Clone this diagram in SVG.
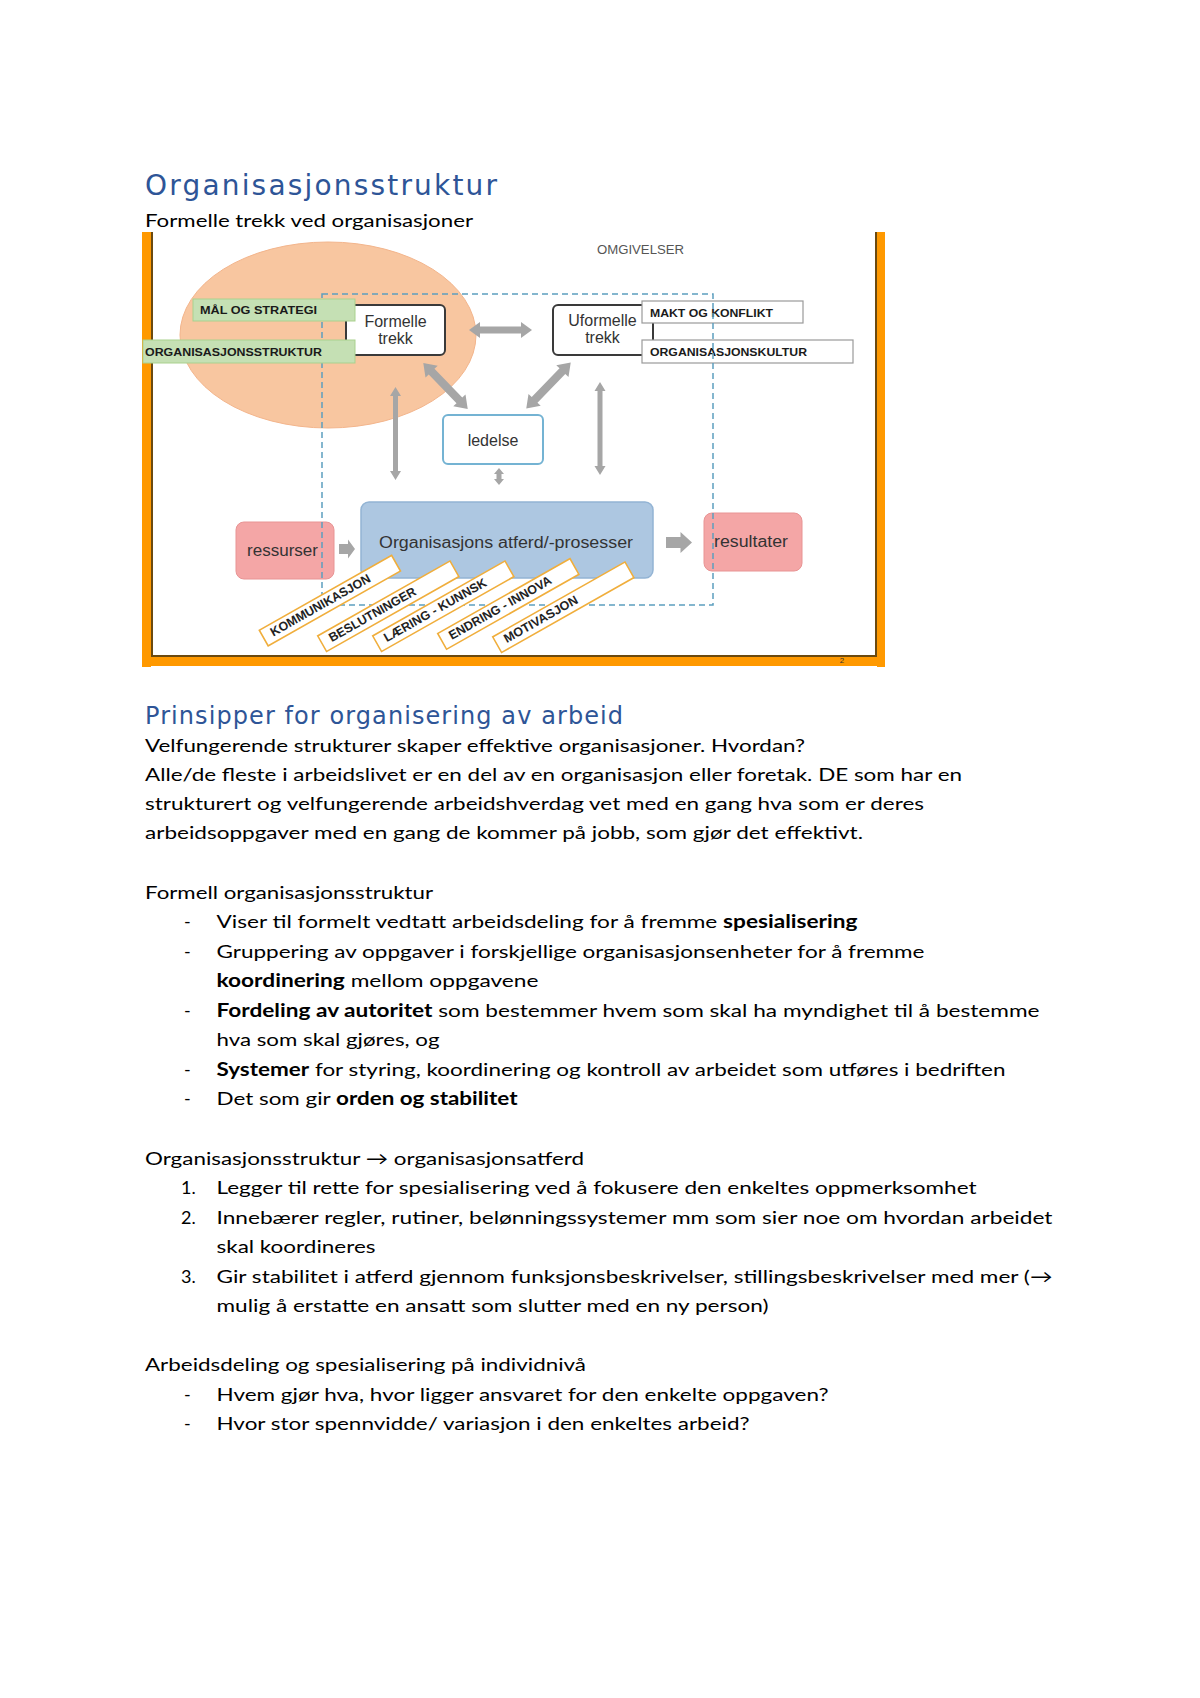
<svg xmlns="http://www.w3.org/2000/svg" width="1200" height="1698" viewBox="0 0 1200 1698">
<style>
.h1{font-family:"DejaVu Sans",sans-serif;fill:#2E5597}
.body{font-family:Lato,"Liberation Sans",sans-serif;font-size:18px;fill:#000}
.b{font-weight:bold}
.lbl{font-family:"Liberation Sans",Arial,sans-serif;fill:#333;font-size:16px}
.cap{font-family:"Liberation Sans",Arial,sans-serif;font-weight:bold;font-size:11px;fill:#1a1a1a}
.tag{font-family:"Liberation Sans",Arial,sans-serif;font-weight:bold;font-size:12.5px;fill:#222}
.arr{fill:#A6A6A6}
.tagbox{fill:#fff;stroke:#F0AE3C;stroke-width:1.6}
.gl{fill:#C5E0B4;stroke:#A9D18E;stroke-width:1}
.wl{fill:#fff;stroke:#9A9A9A;stroke-width:1.2}
</style>
<rect width="1200" height="1698" fill="#fff"/>

<text class="h1" x="145" y="195" font-size="28" textLength="352" lengthAdjust="spacing">Organisasjonsstruktur</text>
<text class="body" x="145" y="227" textLength="328" lengthAdjust="spacingAndGlyphs">Formelle trekk ved organisasjoner</text>

<g id="diagram">
  <g id="frame">
    <rect x="142" y="232" width="9" height="435" fill="#FF9900"/>
    <rect x="877" y="232" width="8" height="435" fill="#FF9900"/>
    <rect x="142" y="657" width="743" height="9" fill="#FF9900"/>
    <path d="M152 232 V656 H876 V232" fill="none" stroke="#6B4A10" stroke-width="2"/>
    <text x="842" y="663" font-family="Liberation Sans,Arial,sans-serif" font-size="8" fill="#333" text-anchor="middle">2</text>
  </g>

  <ellipse id="formal-area" cx="328" cy="335" rx="148" ry="93" fill="#F8C6A0" stroke="#F3B58C" stroke-width="1"/>

  <text id="omgivelser" x="597" y="254" font-family="Liberation Sans,Arial,sans-serif" font-size="12" fill="#555" textLength="87" lengthAdjust="spacingAndGlyphs">OMGIVELSER</text>

  <g id="formelle">
    <rect x="346" y="305" width="99" height="50" rx="5" fill="#fff" stroke="#3A3A3A" stroke-width="2"/>
    <text class="lbl" x="395.5" y="327" text-anchor="middle">Formelle</text>
    <text class="lbl" x="395.5" y="344" text-anchor="middle">trekk</text>
  </g>

  <g id="uformelle">
    <rect x="553" y="305" width="100" height="50" rx="5" fill="#fff" stroke="#3A3A3A" stroke-width="2"/>
    <text class="lbl" x="602.5" y="326" text-anchor="middle" font-size="17">Uformelle</text>
    <text class="lbl" x="602.5" y="343" text-anchor="middle">trekk</text>
  </g>

  <g id="makt">
    <rect class="wl" x="642" y="301" width="161" height="22"/>
    <text class="cap" x="650" y="317" textLength="123" lengthAdjust="spacingAndGlyphs">MAKT OG KONFLIKT</text>
  </g>
  <g id="kultur">
    <rect class="wl" x="642" y="340" width="211" height="23"/>
    <text class="cap" x="650" y="356" textLength="157" lengthAdjust="spacingAndGlyphs">ORGANISASJONSKULTUR</text>
  </g>

  <g id="ledelse">
    <rect x="443" y="415" width="100" height="49" rx="5" fill="#fff" stroke="#74B3D3" stroke-width="2"/>
    <text class="lbl" x="493" y="446" text-anchor="middle">ledelse</text>
  </g>

  <g id="atferd">
    <rect x="361" y="502" width="292" height="76" rx="8" fill="#ADC7E1" stroke="#93B4D4" stroke-width="1.5"/>
    <text class="lbl" x="379" y="548" font-size="17.5" textLength="254" lengthAdjust="spacingAndGlyphs">Organisasjons atferd/-prosesser</text>
  </g>

  <g id="ressurser">
    <rect x="236" y="522" width="98" height="57" rx="8" fill="#F4A6A6" stroke="#E89494" stroke-width="1"/>
    <text class="lbl" x="247" y="556" font-size="17" textLength="71" lengthAdjust="spacingAndGlyphs">ressurser</text>
  </g>

  <g id="resultater">
    <rect x="704" y="513" width="98" height="58" rx="8" fill="#F4A6A6" stroke="#E89494" stroke-width="1"/>
    <text class="lbl" x="714" y="547" font-size="17" textLength="74" lengthAdjust="spacingAndGlyphs">resultater</text>
  </g>

  <g id="connectors">
    <polygon class="arr" transform="translate(500.5,330)" points="-31.5,0 -20.5,-8 -20.5,-3.5 20.5,-3.5 20.5,-8 31.5,0 20.5,8 20.5,3.5 -20.5,3.5 -20.5,8"/>
    <polygon class="arr" transform="translate(445.5,386) rotate(46)" points="-32,0 -20,-8.5 -20,-4 20,-4 20,-8.5 32,0 20,8.5 20,4 -20,4 -20,8.5"/>
    <polygon class="arr" transform="translate(548.5,385.5) rotate(134)" points="-32,0 -20,-8.5 -20,-4 20,-4 20,-8.5 32,0 20,8.5 20,4 -20,4 -20,8.5"/>
    <polygon class="arr" transform="translate(395.5,433.5) rotate(90)" points="-46.5,0 -37.5,-5.5 -37.5,-2.5 37.5,-2.5 37.5,-5.5 46.5,0 37.5,5.5 37.5,2.5 -37.5,2.5 -37.5,5.5"/>
    <polygon class="arr" transform="translate(600,428.5) rotate(90)" points="-46.5,0 -37.5,-5.5 -37.5,-2.5 37.5,-2.5 37.5,-5.5 46.5,0 37.5,5.5 37.5,2.5 -37.5,2.5 -37.5,5.5"/>
    <polygon class="arr" transform="translate(499,476.5) rotate(90)" points="-8.5,0 -2.5,-5 -2.5,-2.5 2.5,-2.5 2.5,-5 8.5,0 2.5,5 2.5,2.5 -2.5,2.5 -2.5,5"/>
    <polygon class="arr" points="339,544 348,544 348,539.5 355,549 348,558.5 348,554 339,554"/>
    <polygon class="arr" points="666,537 680.5,537 680.5,532 692,542.5 680.5,553 680.5,548 666,548"/>
  </g>

  <rect id="organisasjon-grense" x="322" y="294" width="391" height="311" fill="none" stroke="#5C9FBF" stroke-width="1.5" stroke-dasharray="6 4"/>

  <g id="maal">
    <rect class="gl" x="193" y="299" width="162" height="22"/>
    <text class="cap" x="200" y="314" textLength="117" lengthAdjust="spacingAndGlyphs">MÅL OG STRATEGI</text>
  </g>
  <g id="orgstruktur">
    <rect class="gl" x="143" y="340" width="212" height="23"/>
    <text class="cap" x="145" y="356" textLength="177" lengthAdjust="spacingAndGlyphs">ORGANISASJONSSTRUKTUR</text>
  </g>

  <g id="tag-kommunikasjon" transform="translate(273.3,636.7) rotate(-29.5)">
    <rect class="tagbox" x="-9" y="-12.5" width="152" height="18"/>
    <text class="tag" x="0" y="0" textLength="113" lengthAdjust="spacingAndGlyphs">KOMMUNIKASJON</text>
  </g>
  <g id="tag-beslutninger" transform="translate(331.7,642.3) rotate(-29.5)">
    <rect class="tagbox" x="-9" y="-12.5" width="152" height="18"/>
    <text class="tag" x="0" y="0" textLength="98" lengthAdjust="spacingAndGlyphs">BESLUTNINGER</text>
  </g>
  <g id="tag-laering" transform="translate(386.7,642.3) rotate(-29.5)">
    <rect class="tagbox" x="-9" y="-12.5" width="152" height="18"/>
    <text class="tag" x="0" y="0" textLength="116" lengthAdjust="spacingAndGlyphs">LÆRING - KUNNSK</text>
  </g>
  <g id="tag-endring" transform="translate(451.7,640) rotate(-29.5)">
    <rect class="tagbox" x="-9" y="-12.5" width="152" height="18"/>
    <text class="tag" x="0" y="0" textLength="116" lengthAdjust="spacingAndGlyphs">ENDRING - INNOVA</text>
  </g>
  <g id="tag-motivasjon" transform="translate(506.7,643.3) rotate(-29.5)">
    <rect class="tagbox" x="-9" y="-12.5" width="152" height="18"/>
    <text class="tag" x="0" y="0" textLength="83" lengthAdjust="spacingAndGlyphs">MOTIVASJON</text>
  </g>
</g>

<g id="text-body">
<text class="h1" x="145" y="724" font-size="24" textLength="478" lengthAdjust="spacing">Prinsipper for organisering av arbeid</text>
<text class="body" x="145" y="752" textLength="660" lengthAdjust="spacingAndGlyphs">Velfungerende strukturer skaper effektive organisasjoner. Hvordan?</text>
<text class="body" x="145" y="781" textLength="817" lengthAdjust="spacingAndGlyphs">Alle/de fleste i arbeidslivet er en del av en organisasjon eller foretak. DE som har en</text>
<text class="body" x="145" y="810" textLength="779" lengthAdjust="spacingAndGlyphs">strukturert og velfungerende arbeidshverdag vet med en gang hva som er deres</text>
<text class="body" x="145" y="839" textLength="718" lengthAdjust="spacingAndGlyphs">arbeidsoppgaver med en gang de kommer på jobb, som gjør det effektivt.</text>

<text class="body" x="145" y="898.5" textLength="288" lengthAdjust="spacingAndGlyphs">Formell organisasjonsstruktur</text>
<text class="body" x="184" y="928">-</text>
<text class="body" x="216.5" y="928" textLength="641" lengthAdjust="spacingAndGlyphs">Viser til formelt vedtatt arbeidsdeling for å fremme <tspan class="b">spesialisering</tspan></text>
<text class="body" x="184" y="957.5">-</text>
<text class="body" x="216.5" y="957.5" textLength="708" lengthAdjust="spacingAndGlyphs">Gruppering av oppgaver i forskjellige organisasjonsenheter for å fremme</text>
<text class="body" x="216.5" y="987" textLength="322" lengthAdjust="spacingAndGlyphs"><tspan class="b">koordinering</tspan> mellom oppgavene</text>
<text class="body" x="184" y="1016.5">-</text>
<text class="body" x="216.5" y="1016.5" textLength="823" lengthAdjust="spacingAndGlyphs"><tspan class="b">Fordeling av autoritet</tspan> som bestemmer hvem som skal ha myndighet til å bestemme</text>
<text class="body" x="216.5" y="1046" textLength="223" lengthAdjust="spacingAndGlyphs">hva som skal gjøres, og</text>
<text class="body" x="184" y="1075.5">-</text>
<text class="body" x="216.5" y="1075.5" textLength="789" lengthAdjust="spacingAndGlyphs"><tspan class="b">Systemer</tspan> for styring, koordinering og kontroll av arbeidet som utføres i bedriften</text>
<text class="body" x="184" y="1105">-</text>
<text class="body" x="216.5" y="1105" textLength="301" lengthAdjust="spacingAndGlyphs">Det som gir <tspan class="b">orden og stabilitet</tspan></text>

<text class="body" x="145" y="1164.5" textLength="439" lengthAdjust="spacingAndGlyphs">Organisasjonsstruktur → organisasjonsatferd</text>
<text class="body" x="181" y="1194">1.</text>
<text class="body" x="216.5" y="1194" textLength="760" lengthAdjust="spacingAndGlyphs">Legger til rette for spesialisering ved å fokusere den enkeltes oppmerksomhet</text>
<text class="body" x="181" y="1223.5">2.</text>
<text class="body" x="216.5" y="1223.5" textLength="836" lengthAdjust="spacingAndGlyphs">Innebærer regler, rutiner, belønningssystemer mm som sier noe om hvordan arbeidet</text>
<text class="body" x="216.5" y="1253" textLength="159" lengthAdjust="spacingAndGlyphs">skal koordineres</text>
<text class="body" x="181" y="1282.5">3.</text>
<text class="body" x="216.5" y="1282.5" textLength="836" lengthAdjust="spacingAndGlyphs">Gir stabilitet i atferd gjennom funksjonsbeskrivelser, stillingsbeskrivelser med mer (→</text>
<text class="body" x="216.5" y="1312" textLength="552" lengthAdjust="spacingAndGlyphs">mulig å erstatte en ansatt som slutter med en ny person)</text>

<text class="body" x="145" y="1371" textLength="441" lengthAdjust="spacingAndGlyphs">Arbeidsdeling og spesialisering på individnivå</text>
<text class="body" x="184" y="1400.5">-</text>
<text class="body" x="216.5" y="1400.5" textLength="612" lengthAdjust="spacingAndGlyphs">Hvem gjør hva, hvor ligger ansvaret for den enkelte oppgaven?</text>
<text class="body" x="184" y="1430">-</text>
<text class="body" x="216.5" y="1430" textLength="533" lengthAdjust="spacingAndGlyphs">Hvor stor spennvidde/ variasjon i den enkeltes arbeid?</text>
</g>
</svg>
